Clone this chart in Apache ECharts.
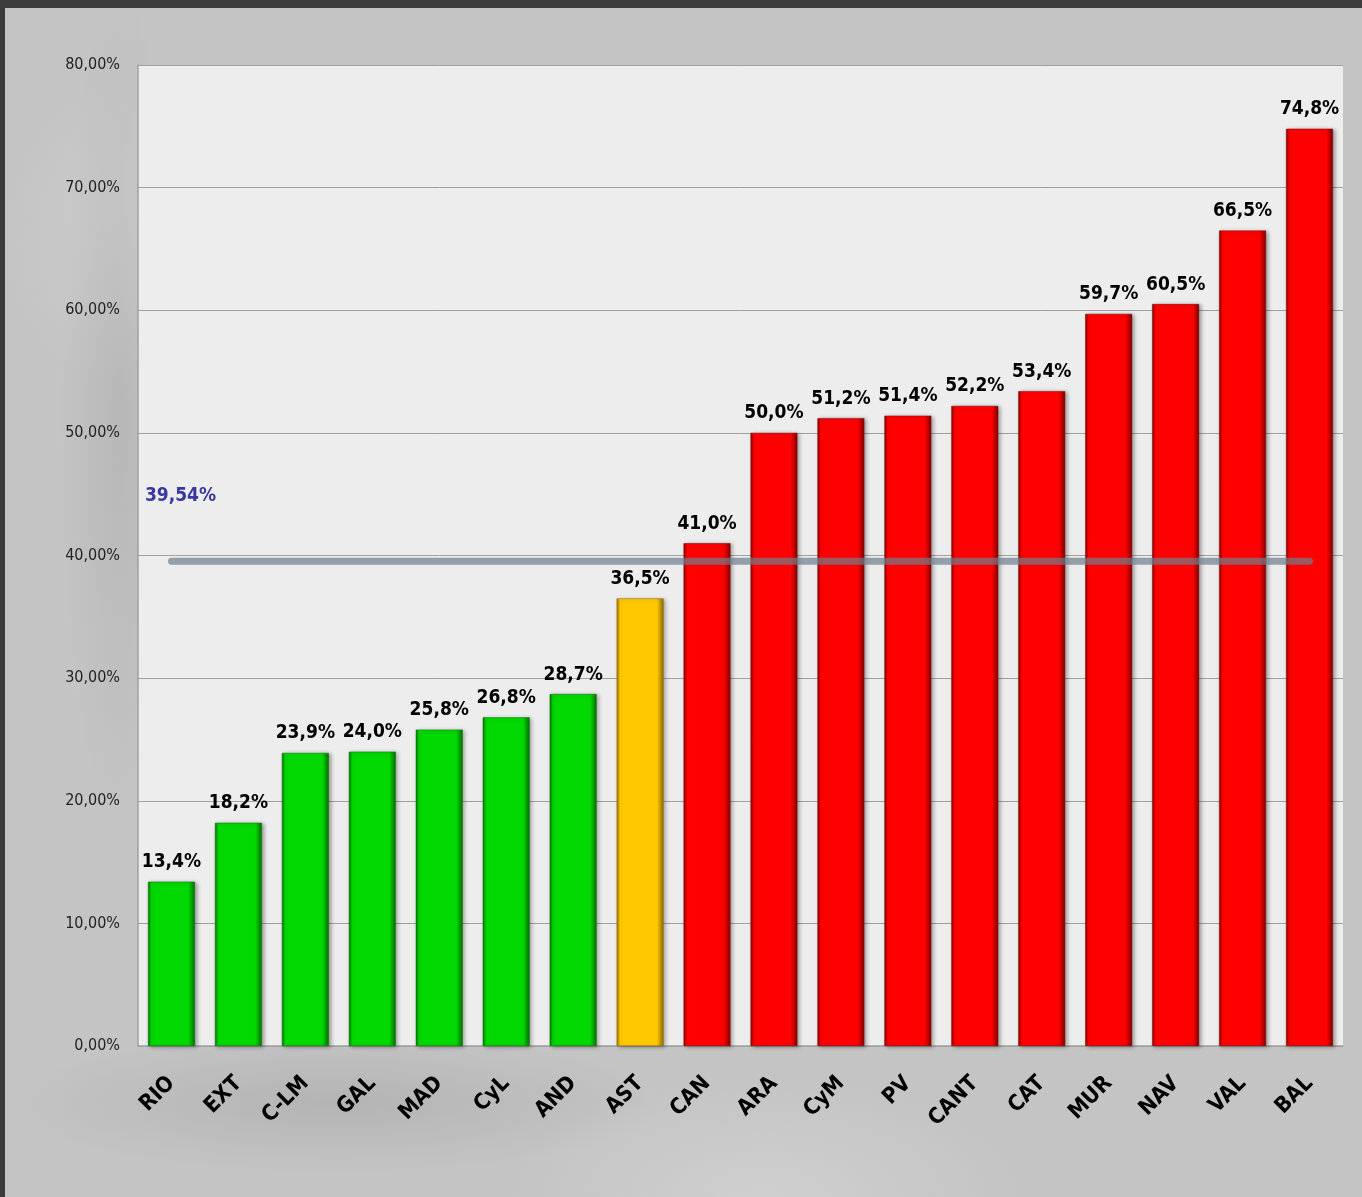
<!DOCTYPE html>
<html>
<head>
<meta charset="utf-8">
<style>
html,body{margin:0;padding:0;background:#3c3c3c;}
#wrap{position:absolute;left:5px;top:8px;right:0;bottom:0;
  background:
    radial-gradient(ellipse 330px 70px at 330px 1095px, rgba(160,160,160,0.45), rgba(196,196,196,0) 100%),
    radial-gradient(ellipse 260px 120px at 760px 1189px, rgba(215,215,215,0.6), rgba(196,196,196,0) 100%),
    radial-gradient(ellipse 60px 420px at 115px 400px, rgba(170,170,170,0.5), rgba(196,196,196,0) 100%),
    radial-gradient(circle 180px at 180px 230px, rgba(225,225,225,0.45), rgba(196,196,196,0) 100%),
    #c4c4c4;}
#chart{width:1357px;height:1189px;}
</style>
<script src="https://cdn.jsdelivr.net/npm/echarts@6/dist/echarts.min.js"></script>
</head>
<body>
<div id="wrap"><div id="chart"></div></div>
<script>
var categories = ['RIO','EXT','C-LM','GAL','MAD','CyL','AND','AST','CAN','ARA','CyM','PV','CANT','CAT','MUR','NAV','VAL','BAL'];
var values = [13.4,18.2,23.9,24.0,25.8,26.8,28.7,36.5,41.0,50.0,51.2,51.4,52.2,53.4,59.7,60.5,66.5,74.8];
var average = 39.54;
var yTicks = [0,10,20,30,40,50,60,70,80];

var FONT = "'Liberation Sans Narrow','DejaVu Sans Condensed','Open Sans',sans-serif";

function barGrad(main, dark){
  return new echarts.graphic.LinearGradient(0,0,1,0,[
    {offset:0,color:dark},{offset:0.07,color:main},{offset:0.86,color:main},{offset:1,color:dark}
  ]);
}
var palettes = {
  green:{main:'#02d802',dark:'#027002'},
  yellow:{main:'#ffc800',dark:'#8f6a00'},
  red:{main:'#ff0000',dark:'#800000'}
};
function colorFor(i){
  if(i<7) return palettes.green;
  if(i===7) return palettes.yellow;
  return palettes.red;
}
var barData = values.map(function(v,i){
  var p = colorFor(i);
  return {value:v,itemStyle:{color:barGrad(p.main,p.dark),borderColor:p.dark,borderWidth:0.5}};
});
var avgData = categories.map(function(c,i){
  if(i===0){
    return {value:average,label:{show:true,position:'top',distance:0,offset:[9,-56],color:'#3838a0',fontFamily:FONT,fontWeight:'bold',fontSize:19,
      formatter:function(){return average.toFixed(2).replace('.',',')+'%';}}};
  }
  return average;
});

var chart = echarts.init(document.getElementById('chart'));
chart.setOption({
  animation:false,
  backgroundColor:'transparent',
  grid:{left:133,top:57,right:19,bottom:151,containLabel:false,show:true,backgroundColor:'#ededed',borderWidth:0},
  xAxis:{
    type:'category',data:categories,
    axisLine:{show:true,lineStyle:{color:'#a0a0a0',width:1.5}},
    axisTick:{show:false},
    axisLabel:{rotate:45,interval:0,margin:34,color:'#000',fontFamily:FONT,fontWeight:'bold',fontSize:22}
  },
  yAxis:{
    type:'value',min:0,max:80,interval:10,
    axisLine:{show:true,lineStyle:{color:'#a0a0a0',width:1.5}},
    axisTick:{show:false},
    splitLine:{lineStyle:{color:'#a0a0a0',width:1}},
    axisLabel:{color:'#222',fontFamily:FONT,fontSize:16,margin:18,padding:[4,0,0,0],
      formatter:function(v){return v.toFixed(2).replace('.',',')+'%';}}
  },
  series:[
    {type:'bar',data:barData,barWidth:'70%',z:2,
     itemStyle:{shadowColor:'rgba(0,0,0,0.35)',shadowBlur:4,shadowOffsetX:2,shadowOffsetY:1},
     label:{show:true,position:'top',distance:10,color:'#000',fontFamily:FONT,fontWeight:'bold',fontSize:19,
       formatter:function(p){return p.value.toFixed(1).replace('.',',')+'%';}}
    },
    {type:'line',data:avgData,z:3,symbol:'circle',symbolSize:0.01,showSymbol:true,
     itemStyle:{color:'rgba(0,0,0,0)'},
     label:{show:false},
     lineStyle:{color:'rgba(110,125,140,0.7)',width:7,cap:'round'}
    }
  ]
});
</script>
</body>
</html>
